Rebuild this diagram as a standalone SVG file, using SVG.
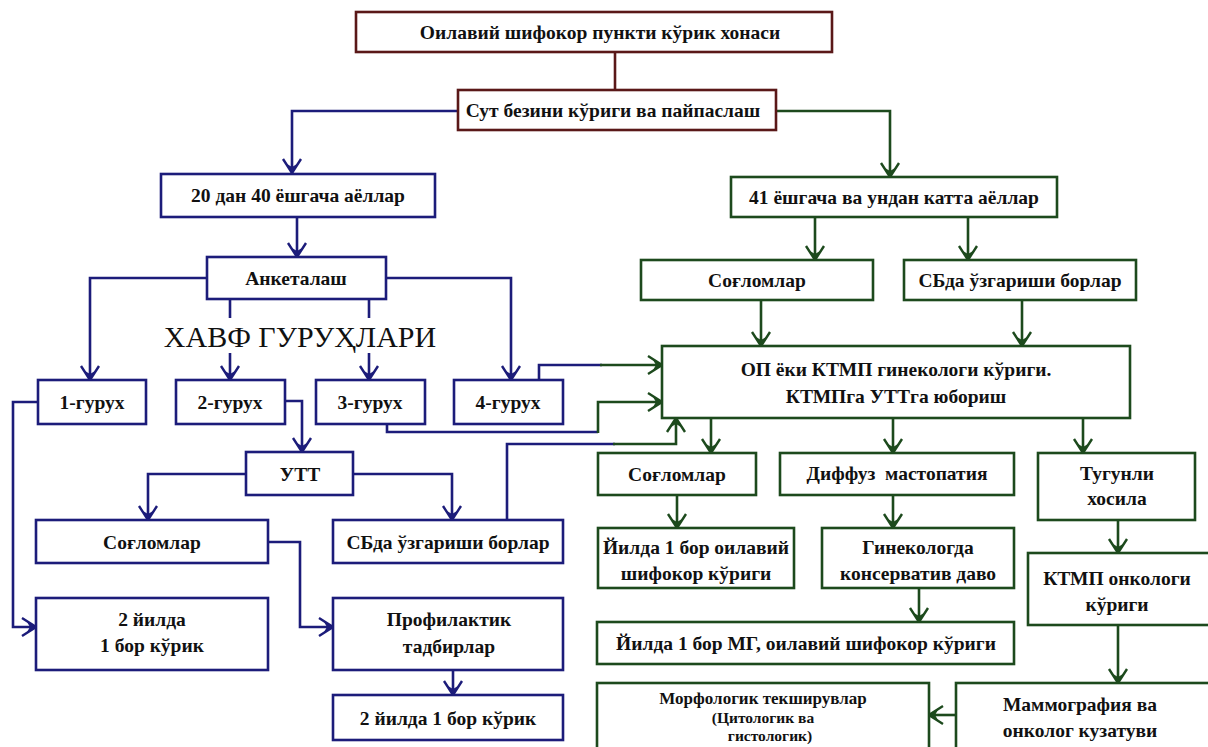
<svg xmlns="http://www.w3.org/2000/svg" width="1208" height="747" viewBox="0 0 1208 747">
<style>
.bx{fill:#fff;stroke-width:2.6}
.m{stroke:#5a1818}
.b{stroke:#1c1c7a}
.g{stroke:#1d4a1d}
.ln{fill:none;stroke-width:2.6}
text{font-family:"Liberation Serif","Times New Roman",serif;font-size:19.5px;font-weight:bold;fill:#111;text-anchor:middle}
.big{font-size:30px;font-weight:normal}
.sm{font-size:17px}
.xs{font-size:15.5px}
</style>
<defs>
<marker id="ab" viewBox="-16 -11 18 22" refX="0" refY="0" markerWidth="18" markerHeight="22" markerUnits="userSpaceOnUse" orient="auto">
<path d="M-14,-9 L0,0 L-14,9" fill="none" stroke="#1c1c7a" stroke-width="2.4"/>
<path d="M0,0 L-9,-5 L-6,0 L-9,5 Z" fill="#1c1c7a"/>
</marker>
<marker id="ag" viewBox="-16 -11 18 22" refX="0" refY="0" markerWidth="18" markerHeight="22" markerUnits="userSpaceOnUse" orient="auto">
<path d="M-14,-9 L0,0 L-14,9" fill="none" stroke="#1d4a1d" stroke-width="2.4"/>
<path d="M0,0 L-9,-5 L-6,0 L-9,5 Z" fill="#1d4a1d"/>
</marker>
</defs>
<rect width="1208" height="747" fill="#fff"/>

<g id="connectors">
<path class="ln m" d="M615,52 V90"/>
<path class="ln b" d="M458,111 H292 V173" marker-end="url(#ab)"/>
<path class="ln g" d="M776,111 H890 V177" marker-end="url(#ag)"/>
<path class="ln b" d="M297,217 V257" marker-end="url(#ab)"/>
<path class="ln b" d="M207,278 H90 V380" marker-end="url(#ab)"/>
<path class="ln b" d="M386,278 H511 V380" marker-end="url(#ab)"/>
<path class="ln b" d="M230,299 V380" marker-end="url(#ab)"/>
<path class="ln b" d="M369,299 V380" marker-end="url(#ab)"/>
<path class="ln b" d="M38,402 H13 V627 H36" marker-end="url(#ab)"/>
<path class="ln b" d="M285,401 H302 V452" marker-end="url(#ab)"/>
<path class="ln b" d="M246,474 H148 V520" marker-end="url(#ab)"/>
<path class="ln b" d="M353,474 H452 V520" marker-end="url(#ab)"/>
<path class="ln b" d="M268,542 H300 V627 H333" marker-end="url(#ab)"/>
<path class="ln b" d="M453,670 V695" marker-end="url(#ab)"/>
<path class="ln b" d="M539,380 V365 H602"/>
<path class="ln g" d="M600,365 H662" marker-end="url(#ag)"/>
<path class="ln b" d="M387,424 V432 H598"/>
<path class="ln g" d="M598,433 V402 H662" marker-end="url(#ag)"/>
<path class="ln b" d="M507,520 V444 H615"/>
<path class="ln g" d="M613,444 H676 V418" marker-end="url(#ag)"/>
<path class="ln g" d="M815,217 V260" marker-end="url(#ag)"/>
<path class="ln g" d="M968,217 V260" marker-end="url(#ag)"/>
<path class="ln g" d="M761,300 V346" marker-end="url(#ag)"/>
<path class="ln g" d="M1022,300 V346" marker-end="url(#ag)"/>
<path class="ln g" d="M711,418 V453" marker-end="url(#ag)"/>
<path class="ln g" d="M893,418 V453" marker-end="url(#ag)"/>
<path class="ln g" d="M1083,418 V453" marker-end="url(#ag)"/>
<path class="ln g" d="M677,495 V528" marker-end="url(#ag)"/>
<path class="ln g" d="M893,495 V528" marker-end="url(#ag)"/>
<path class="ln g" d="M919,588 V622" marker-end="url(#ag)"/>
<path class="ln g" d="M1118,520 V553" marker-end="url(#ag)"/>
<path class="ln g" d="M1118,625 V683" marker-end="url(#ag)"/>
<path class="ln g" d="M956,715 H929" marker-end="url(#ag)"/>
</g>

<g id="risk-label">
<rect x="160" y="318" width="282" height="35" fill="#fff"/>
<text class="big" x="300" y="347">ХАВФ ГУРУҲЛАРИ</text>
</g>

<g id="n-top"><rect class="bx m" x="356" y="12" width="476" height="40"/><text x="600" y="39">Оилавий шифокор пункти кўрик хонаси</text></g>
<g id="n-exam"><rect class="bx m" x="458" y="90" width="318" height="40"/><text x="613" y="117">Сут безини кўриги ва пайпаслаш</text></g>

<g id="n-20-40"><rect class="bx b" x="161" y="174" width="274" height="43"/><text x="298" y="202">20 дан 40 ёшгача аёллар</text></g>
<g id="n-anketa"><rect class="bx b" x="207" y="257" width="179" height="42"/><text x="296" y="285">Анкеталаш</text></g>
<g id="n-g1"><rect class="bx b" x="38" y="380" width="108" height="44"/><text x="92" y="409">1-гурух</text></g>
<g id="n-g2"><rect class="bx b" x="176" y="380" width="109" height="44"/><text x="230" y="409">2-гурух</text></g>
<g id="n-g3"><rect class="bx b" x="316" y="380" width="109" height="44"/><text x="370" y="409">3-гурух</text></g>
<g id="n-g4"><rect class="bx b" x="454" y="380" width="109" height="44"/><text x="508" y="409">4-гурух</text></g>
<g id="n-utt"><rect class="bx b" x="246" y="452" width="107" height="43"/><text x="300" y="481">УТТ</text></g>
<g id="n-healthy-l"><rect class="bx b" x="36" y="520" width="232" height="43"/><text x="152" y="549">Соғломлар</text></g>
<g id="n-changes-l"><rect class="bx b" x="333" y="520" width="230" height="43"/><text x="448" y="549">СБда ўзгариши борлар</text></g>
<g id="n-2y-l"><rect class="bx b" x="36" y="598" width="232" height="72"/><text x="152" y="626">2 йилда</text><text x="152" y="652">1 бор кўрик</text></g>
<g id="n-prof"><rect class="bx b" x="333" y="598" width="230" height="72"/><text x="449" y="626">Профилактик</text><text x="449" y="653">тадбирлар</text></g>
<g id="n-2y-b"><rect class="bx b" x="333" y="695" width="230" height="45"/><text x="448" y="725">2 йилда 1 бор кўрик</text></g>

<g id="n-41"><rect class="bx g" x="731" y="177" width="326" height="40"/><text x="894" y="204">41 ёшгача ва ундан катта аёллар</text></g>
<g id="n-healthy-r1"><rect class="bx g" x="641" y="260" width="232" height="40"/><text x="757" y="287">Соғломлар</text></g>
<g id="n-changes-r1"><rect class="bx g" x="904" y="260" width="232" height="40"/><text x="1020" y="287">СБда ўзгариши борлар</text></g>
<g id="n-op"><rect class="bx g" x="662" y="346" width="468" height="72"/><text x="896" y="376">ОП ёки КТМП гинекологи кўриги.</text><text x="896" y="403">КТМПга УТТга юбориш</text></g>
<g id="n-healthy-r2"><rect class="bx g" x="598" y="453" width="158" height="42"/><text x="677" y="481">Соғломлар</text></g>
<g id="n-diffuse"><rect class="bx g" x="780" y="453" width="234" height="42"/><text x="897" y="480">Диффуз&#160; мастопатия</text></g>
<g id="n-nodular"><rect class="bx g" x="1038" y="453" width="157" height="67"/><text x="1117" y="480">Тугунли</text><text x="1117" y="505">хосила</text></g>
<g id="n-yearly"><rect class="bx g" x="598" y="528" width="196" height="60"/><text x="696" y="554">Йилда 1 бор оилавий</text><text x="696" y="580">шифокор кўриги</text></g>
<g id="n-gyn"><rect class="bx g" x="822" y="528" width="192" height="60"/><text x="918" y="554">Гинекологда</text><text x="918" y="580">консерватив даво</text></g>
<g id="n-mg"><rect class="bx g" x="597" y="622" width="417" height="42"/><text x="806" y="650">Йилда 1 бор МГ, оилавий шифокор кўриги</text></g>
<g id="n-onco"><rect class="bx g" x="1028" y="553" width="182" height="72"/><text x="1117" y="585">КТМП онкологи</text><text x="1117" y="611">кўриги</text></g>
<g id="n-mammo"><rect class="bx g" x="956" y="683" width="254" height="70"/><text x="1080" y="711">Маммография ва</text><text x="1080" y="737">онколог кузатуви</text></g>
<g id="n-morph"><rect class="bx g" x="597" y="683" width="332" height="70"/><text class="sm" x="763" y="704">Морфологик текширувлар</text><text class="xs" x="763" y="723">(Цитологик ва</text><text class="xs" x="770" y="741">гистологик)</text></g>
</svg>
